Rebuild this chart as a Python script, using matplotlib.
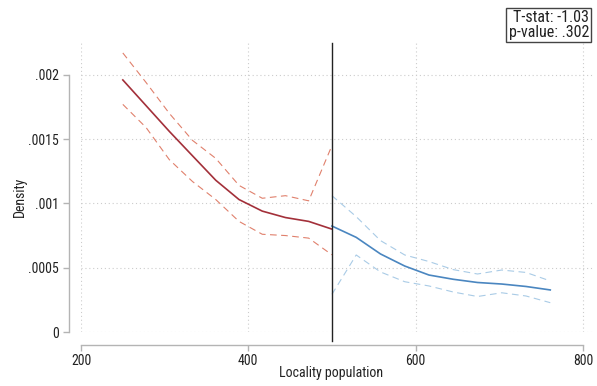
import matplotlib
matplotlib.use("Agg")
import matplotlib.pyplot as plt
import numpy as np

plt.rcParams['font.family'] = ['Roboto Condensed', 'DejaVu Sans Condensed', 'Liberation Sans Narrow', 'Roboto', 'DejaVu Sans']
plt.rcParams['font.stretch'] = 'condensed'

# left of cutoff (red)
left_x = [250.0, 277.8, 305.6, 333.3, 361.1, 388.9, 416.7, 444.4, 472.2, 500.0]
left_fit = [0.00196, 0.00176, 0.00156, 0.00137, 0.00118, 0.00103, 0.00094, 0.00089, 0.00086, 0.00080]
left_hi = [0.00217, 0.00194, 0.00170, 0.00149, 0.00135, 0.00114, 0.00104, 0.00106, 0.00102, 0.00145]
left_lo = [0.00177, 0.00159, 0.00134, 0.00117, 0.00103, 0.00086, 0.00076, 0.00075, 0.00073, 0.00060]

# right of cutoff (blue)
right_x = [500, 529, 558, 587, 616, 645, 674, 703, 732, 761]
right_fit = [0.000824, 0.000736, 0.000607, 0.000513, 0.000443, 0.000410, 0.000385, 0.000373, 0.000354, 0.000327]
right_hi = [0.00106, 0.000897, 0.000711, 0.000599, 0.000548, 0.000485, 0.000451, 0.000482, 0.000463, 0.000397]
right_lo = [0.000293, 0.000599, 0.000467, 0.000391, 0.000358, 0.000311, 0.000276, 0.000305, 0.000280, 0.000228]

cutoff = 500
t_stat = -1.03
p_value = ".302"

xticks = [200, 400, 600, 800]
yticks = [0, 0.0005, 0.001, 0.0015, 0.002]
ytick_labels = ["0", ".0005", ".001", ".0015", ".002"]

W, H = 597, 386
fig = plt.figure(figsize=(W / 100, H / 100), dpi=100)
ax = fig.add_axes([81 / W, (H - 332) / H, (593 - 81) / W, 289 / H])

red = "#a3303a"
red_ci = "#e0806c"
blue = "#4a86c0"
blue_ci = "#a9cbe6"

ax.plot(left_x, left_fit, color=red, lw=1.2)
ax.plot(left_x, left_hi, color=red_ci, lw=0.8, dashes=(6, 4))
ax.plot(left_x, left_lo, color=red_ci, lw=0.8, dashes=(6, 4))
ax.plot(right_x, right_fit, color=blue, lw=1.2)
ax.plot(right_x, right_hi, color=blue_ci, lw=0.8, dashes=(6, 4))
ax.plot(right_x, right_lo, color=blue_ci, lw=0.8, dashes=(6, 4))

ax.axvline(cutoff, ymin=-9 / 289, ymax=1, color="#222222", lw=1.0, clip_on=False, zorder=3)

ax.set_xlim(200, 200 + (593 - 81) * 200 / 167.3)
ax.set_ylim(0, (332 - 43) / 64.3 * 0.0005)

ax.set_xticks(xticks)
ax.set_yticks(yticks)
ax.set_yticklabels(ytick_labels)
ax.grid(True, color="#cccccc", lw=0.8, linestyle=(0, (1, 2.5)))
ax.set_axisbelow(True)

for s in ["top", "right"]:
    ax.spines[s].set_visible(False)
for s in ["left", "bottom"]:
    ax.spines[s].set_position(("outward", 9))
    ax.spines[s].set_color("#b4b4b4")
    ax.spines[s].set_linewidth(1.0)
ax.spines["left"].set_bounds(0, 0.002)
ax.spines["bottom"].set_bounds(200, 800)

ax.tick_params(colors="#b4b4b4", labelcolor="#222222", labelsize=10, length=4, width=1.0, pad=3)

ax.set_xlabel("Locality population", fontsize=10, color="#222222")
ax.set_ylabel("Density", fontsize=10, color="#222222")
ax.xaxis.set_label_coords((331 - 81) / (593 - 81), -(366 - 332) / 289)
ax.yaxis.set_label_coords(-(81 - 27) / (593 - 81), (332 - 197) / 289)

fig.text(589 / W, 1 - 10 / H, f"T-stat: {t_stat:.2f}\np-value: {p_value}",
         ha="right", va="top", fontsize=11.5, color="#222222", linespacing=1.0,
         bbox=dict(boxstyle="square,pad=0.15", fc="white", ec="#444444", lw=1.0))

fig.savefig("out.png", dpi=100)
